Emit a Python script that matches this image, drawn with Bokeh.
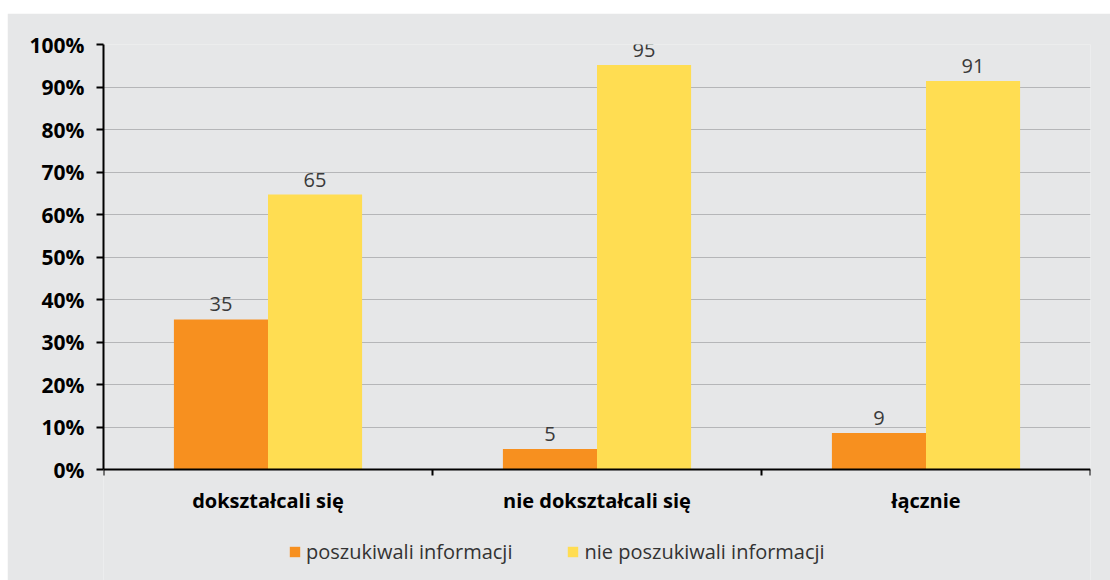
from bokeh.plotting import figure
from bokeh.models import (Range1d, FixedTicker, LinearAxis, Legend, LegendItem,
                          ColumnDataSource, Grid, Spacer)
from bokeh.layouts import column, row
from bokeh.embed import file_html
from bokeh.resources import INLINE

categories = ["dokształcali się", "nie dokształcali się", "łącznie"]
series_names = ["poszukiwali informacji", "nie poszukiwali informacji"]
searched = [35.3, 4.8, 8.6]
not_searched = [64.7, 95.2, 91.4]
y_ticks = [0, 10, 20, 30, 40, 50, 60, 70, 80, 90, 100]

FONT = "Open Sans"
BG = "#e6e7e8"
ORANGE = "#f7901f"
YELLOW = "#ffdd52"
W = 1103
H = 567

n = len(categories)
centers = [i + 0.5 for i in range(n)]
bw = 0.286

src1 = ColumnDataSource(dict(x=[c - bw / 2 for c in centers], top=searched,
                             lab=[str(int(v + 0.5)) for v in searched]))
src2 = ColumnDataSource(dict(x=[c + bw / 2 for c in centers], top=not_searched,
                             lab=[str(int(v + 0.5)) for v in not_searched]))

# frame: top at 44, 0% at 469, figure bottom at 580 (4.25 px per %)
y_bottom = -(580 - 469) / 4.25

p = figure(width=W, height=H, output_backend="svg", toolbar_location=None,
           x_range=Range1d(0, n), y_range=Range1d(y_bottom, 100),
           x_axis_type=None, y_axis_type=None,
           min_border_left=96, min_border_right=20, min_border_top=31, min_border_bottom=0)
p.background_fill_color = BG
p.border_fill_color = BG
p.outline_line_color = None

# y axis
yax = LinearAxis(ticker=FixedTicker(ticks=y_ticks), bounds=(0, 100))
yax.major_label_overrides = {t: f"{t}%" for t in y_ticks}
yax.axis_line_width = 2
yax.axis_line_color = "black"
yax.major_tick_line_width = 2
yax.major_tick_line_color = "black"
yax.major_tick_out = 7
yax.major_tick_in = 0
yax.minor_tick_line_color = None
yax.major_label_standoff = 12
yax.major_label_text_font = FONT
yax.major_label_text_font_style = "bold"
yax.major_label_text_font_size = "21px"
yax.major_label_text_color = "black"
p.add_layout(yax, "left")

# x axis (boundary ticks) at 0%
xax = LinearAxis(ticker=FixedTicker(ticks=list(range(n + 1))), fixed_location=0)
xax.major_label_overrides = {i: " " for i in range(n + 1)}
xax.major_label_text_font_size = "1px"
xax.major_label_standoff = 0
xax.axis_line_width = 2
xax.axis_line_color = "black"
xax.major_tick_line_width = 2
xax.major_tick_line_color = "black"
xax.major_tick_out = 6
xax.major_tick_in = 0
xax.minor_tick_line_color = None
p.add_layout(xax, "below")

# category labels
cax = LinearAxis(ticker=FixedTicker(ticks=centers), fixed_location=0)
cax.major_label_overrides = {c: categories[i] for i, c in enumerate(centers)}
cax.axis_line_color = None
cax.major_tick_line_color = None
cax.minor_tick_line_color = None
cax.major_label_standoff = 11
cax.major_label_text_font = FONT
cax.major_label_text_font_style = "bold"
cax.major_label_text_font_size = "20px"
cax.major_label_text_color = "black"
p.add_layout(cax, "below")

g = Grid(dimension=1, ticker=FixedTicker(ticks=y_ticks[1:]))
g.grid_line_color = "#b5b6b8"
g.grid_line_width = 1.2
p.add_layout(g)

r1 = p.vbar(x="x", top="top", width=bw, source=src1, fill_color=ORANGE, line_color=None)
r2 = p.vbar(x="x", top="top", width=bw, source=src2, fill_color=YELLOW, line_color=None)

for s in (src1, src2):
    p.text(x="x", y="top", text="lab", source=s, text_align="center", text_baseline="bottom",
           y_offset=-8, text_font_size="20px", text_color="#3a3a3a",
           text_font={"value": FONT}, text_font_style="normal")

legend = Legend(items=[LegendItem(label=series_names[0], renderers=[r1]),
                       LegendItem(label=series_names[1], renderers=[r2])],
                orientation="horizontal", location=(185, 15))
legend.background_fill_alpha = 0
legend.border_line_color = None
legend.glyph_width = 13
legend.glyph_height = 13
legend.label_standoff = 5
legend.spacing = 54
legend.padding = 0
legend.margin = 0
legend.label_text_font = FONT
legend.label_text_font_size = "20px"
legend.label_text_color = "#333333"
p.add_layout(legend, "center")

layout = column(Spacer(width=W + 7, height=13), row(Spacer(width=7, height=H), p))
open("out.html", "w").write(file_html(layout, INLINE))
